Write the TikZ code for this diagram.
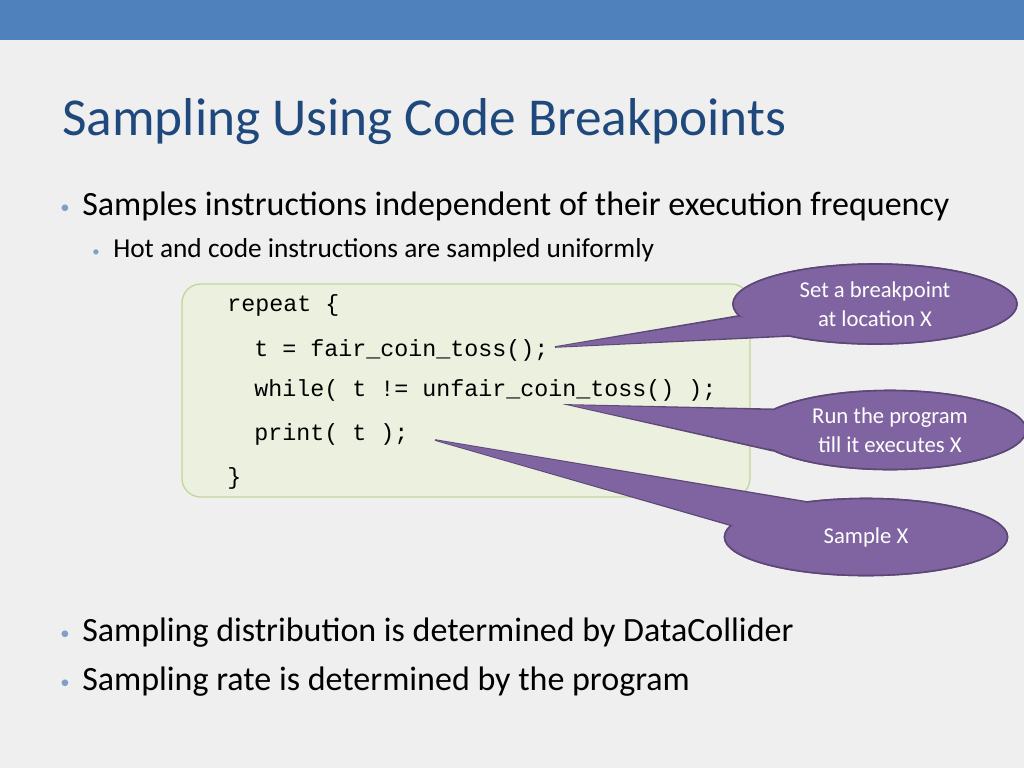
\documentclass[tikz,border=0pt]{standalone}
\usepackage{fontspec}
\setmainfont{Carlito}
\newfontfamily\codefont{Liberation Mono}
\usetikzlibrary{shapes.geometric}
\definecolor{band}{HTML}{4F81BD}
\definecolor{bg}{HTML}{EFEFEF}
\definecolor{ttl}{HTML}{1F497D}
\definecolor{codefill}{HTML}{EBF1DE}
\definecolor{codeline}{HTML}{C3D69B}
\definecolor{purp}{HTML}{8064A2}
\definecolor{purpd}{HTML}{5C4776}
\definecolor{bul}{HTML}{7F9FC8}
\tikzset{
 txt/.style={anchor=base west,inner sep=0pt,text=black},
 code/.style={anchor=base west,inner sep=0pt,font=\codefont\fontsize{17.5}{20}\selectfont},
 bl/.style={anchor=base west,inner sep=0pt,text=bul},
 call/.style={ellipse,fill=purp,draw=purpd,line width=1.2pt,text=white,align=center,font=\fontsize{17}{22}\selectfont,inner sep=0pt},
}
\begin{document}
\begin{tikzpicture}[x=0.75pt,y=-0.75pt]
\fill[bg] (0,0) rectangle (1024,768);
\useasboundingbox (0,0) rectangle (1024,768);
\fill[band] (0,0) rectangle (1024,40);
\node[txt,text=ttl,font=\fontsize{40}{44}\selectfont] (title) at (62,135) {Sampling Using Code Breakpoints};
\node[bl,font=\fontsize{14}{16}\selectfont] (b1) at (60,213) {•};
\node[txt,font=\fontsize{25.5}{28}\selectfont] (t1) at (82,215) {Samples instructions independent of their execution frequency};
\node[bl,font=\fontsize{11}{13}\selectfont] (b2) at (92,256) {•};
\node[txt,font=\fontsize{20.5}{23}\selectfont] (t2) at (113,257) {Hot and code instructions are sampled uniformly};
\node[bl,font=\fontsize{14}{16}\selectfont] (b3) at (60,639) {•};
\node[txt,font=\fontsize{25.5}{28}\selectfont] (t3) at (82,641) {Sampling distribution is determined by DataCollider};
\node[bl,font=\fontsize{14}{16}\selectfont] (b4) at (60,688) {•};
\node[txt,font=\fontsize{25.5}{28}\selectfont] (t4) at (82,690) {Sampling rate is determined by the program};
\draw[fill=codefill,draw=codeline,line width=1pt,rounded corners=14pt] (182,284) rectangle (750,497);
\node[code] (c1) at (227,311) {repeat \{};
\node[code] (c2) at (254,356) {t = fair\_coin\_toss();};
\node[code] (c3) at (254,396) {while( t != unfair\_coin\_toss() );};
\node[code] (c4) at (254,440) {print( t );};
\node[code] (c5) at (227,484) {\}};
\coordinate (p1) at (555,347);
\coordinate (p2) at (570,405);
\coordinate (p3) at (435,440);
% callout 1
\node[call,minimum width=284pt*0.75,minimum height=80pt*0.75] (e1) at (875,304) {Set a breakpoint\\at location X};
\draw[fill=purp,draw=purpd,line width=1.2pt] (p1) -- (e1.200) -- (e1.185) -- cycle;
\node[call,minimum width=284pt*0.75,minimum height=80pt*0.75] at (e1) {Set a breakpoint\\at location X};
\fill[purp] (p1) -- ([shift={(2,-1)}]e1.200) -- ([shift={(2,1)}]e1.185) -- cycle;
% callout 2
\node[call,minimum width=272pt*0.75,minimum height=79pt*0.75] (e2) at (890,430) {Run the program\\till it executes X};
\draw[fill=purp,draw=purpd,line width=1.2pt] (p2) -- (e2.190) -- (e2.170) -- cycle;
\node[call,minimum width=272pt*0.75,minimum height=79pt*0.75] at (e2) {Run the program\\till it executes X};
\fill[purp] (p2) -- ([shift={(2,-1)}]e2.190) -- ([shift={(2,1)}]e2.170) -- cycle;
% callout 3
\node[call,minimum width=283pt*0.75,minimum height=77pt*0.75] (e3) at (866,537) {Sample X};
\draw[fill=purp,draw=purpd,line width=1.2pt] (p3) -- (e3.175) -- (e3.150) -- cycle;
\node[call,minimum width=283pt*0.75,minimum height=77pt*0.75] at (e3) {Sample X};
\fill[purp] (p3) -- ([shift={(2,0)}]e3.175) -- ([shift={(2,1)}]e3.150) -- cycle;
\end{tikzpicture}
\end{document}
